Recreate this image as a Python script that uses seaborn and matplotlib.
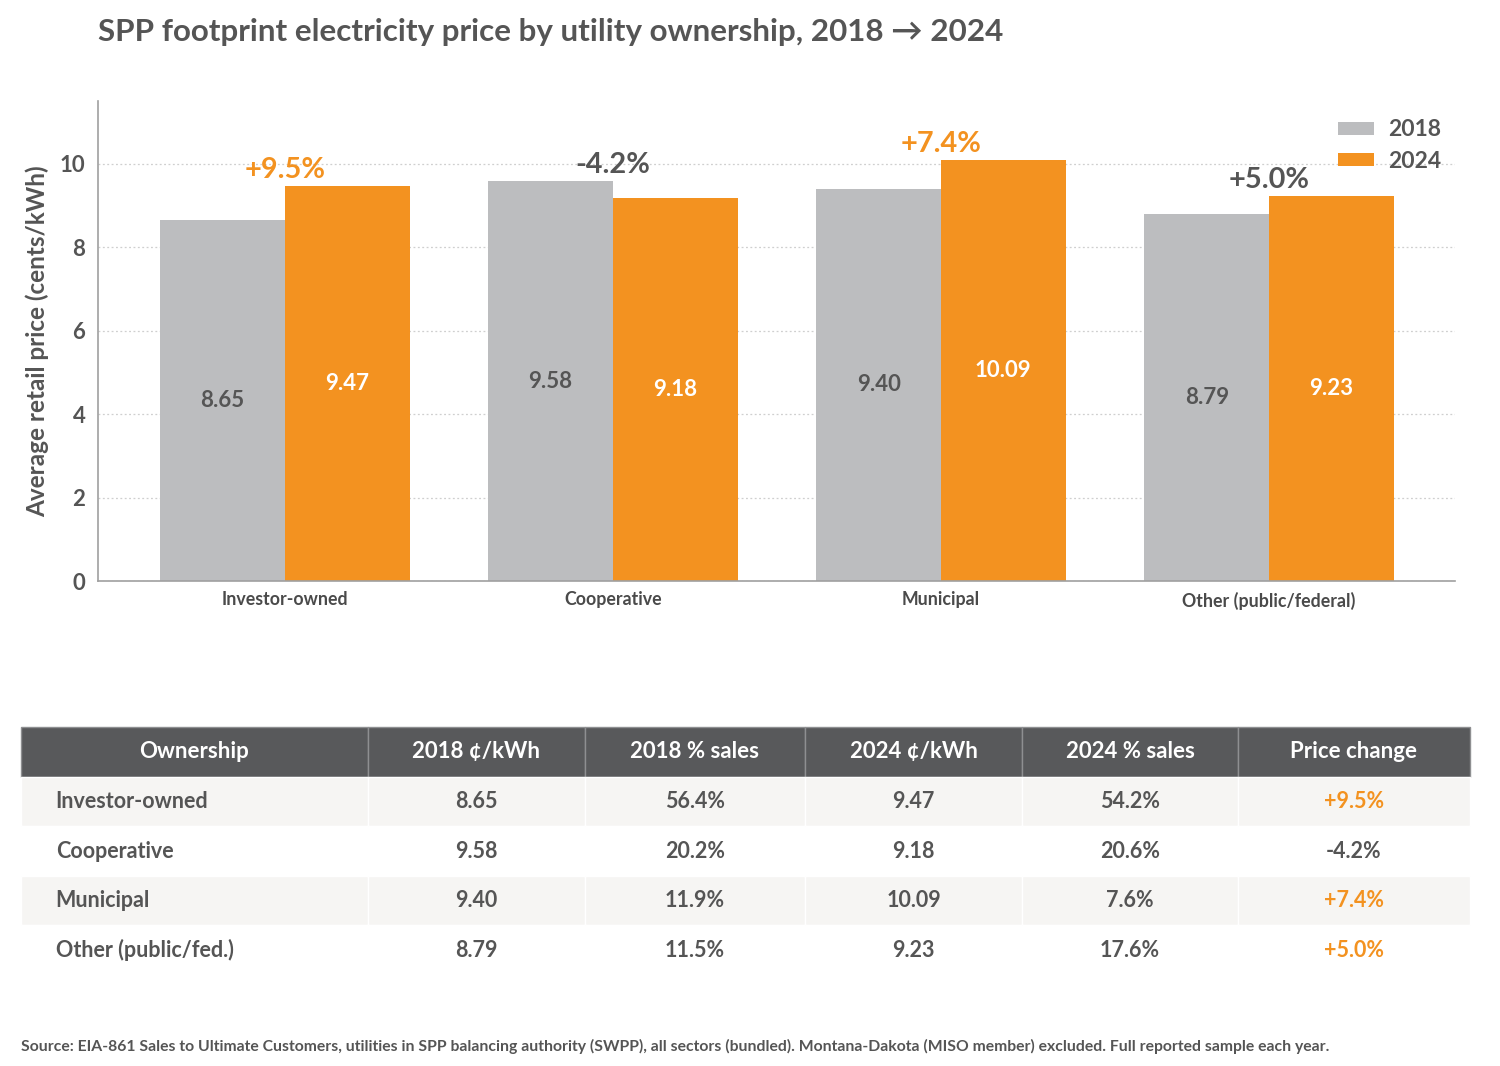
import matplotlib
matplotlib.use("Agg")
import matplotlib.pyplot as plt
import seaborn as sns
import pandas as pd

# ---- data ----
ownership = ["Investor-owned", "Cooperative", "Municipal", "Other (public/federal)"]
table_names = ["Investor-owned", "Cooperative", "Municipal", "Other (public/fed.)"]
years = ["2018", "2024"]
price_2018 = [8.65, 9.58, 9.40, 8.79]
price_2024 = [9.47, 9.18, 10.09, 9.23]
sales_2018 = ["56.4%", "20.2%", "11.9%", "11.5%"]
sales_2024 = ["54.2%", "20.6%", "7.6%", "17.6%"]
price_change = [9.5, -4.2, 7.4, 5.0]
col_labels = ["Ownership", "2018 ¢/kWh", "2018 % sales", "2024 ¢/kWh", "2024 % sales", "Price change"]
yticks = [0, 2, 4, 6, 8, 10]

GRAY = "#bcbdbf"
ORANGE = "#f39220"
DARK = "#58595b"
TXT = "#555555"

sns.set_theme(style="white")
plt.rcParams["font.family"] = ["Lato", "DejaVu Sans"]

fig = plt.figure(figsize=(15, 10.66), dpi=100)
fig.patch.set_facecolor("white")

# ---- bar chart ----
ax = fig.add_axes([98 / 1500, 1 - 581 / 1066, (1455 - 98) / 1500, (581 - 101) / 1066])
df = pd.DataFrame({
    "Ownership": ownership * 2,
    "Year": [years[0]] * 4 + [years[1]] * 4,
    "Price": price_2018 + price_2024,
})
sns.barplot(data=df, x="Ownership", y="Price", hue="Year", palette=[GRAY, ORANGE],
            width=0.76, saturation=1, ax=ax, errorbar=None, linewidth=0)

ax.set_ylim(0, 11.5)
ax.set_xlim(-0.57, 3.567)
ax.set_yticks(yticks)
ax.set_yticklabels([str(t) for t in yticks], fontsize=16, color=TXT, fontweight="bold")
ax.tick_params(axis="x", labelsize=12.8, labelcolor="#4a4a4a", length=4, color="#999999", width=1)
ax.tick_params(axis="y", length=5, color="#999999", width=1, pad=4)
for lab in ax.get_xticklabels():
    lab.set_fontweight("bold")
ax.set_xlabel("")
ax.set_ylabel("Average retail price (cents/kWh)", fontsize=17.5, color=TXT,
              fontweight="bold", labelpad=8)
ax.yaxis.grid(True, linestyle=(0, (1.5, 2)), color="#cfcfcf", linewidth=0.9)
ax.set_axisbelow(True)
for s in ["top", "right"]:
    ax.spines[s].set_visible(False)
for s in ["left", "bottom"]:
    ax.spines[s].set_color("#a0a0a0")
    ax.spines[s].set_linewidth(1.2)

# value labels
conts = ax.containers
ax.bar_label(conts[0], labels=[f"{v:.2f}" for v in price_2018], label_type="center",
             fontsize=16, color=TXT, fontweight="bold")
ax.bar_label(conts[1], labels=[f"{v:.2f}" for v in price_2024], label_type="center",
             fontsize=16, color="white", fontweight="bold")

# change labels
for i, (a, b, c) in enumerate(zip(price_2018, price_2024, price_change)):
    col = ORANGE if c > 5.0 else TXT
    ax.annotate(f"{c:+.1f}%", xy=(i, max(a, b)), xytext=(0, 2), textcoords="offset points",
                ha="center", va="bottom", fontsize=20.8, color=col, fontweight="bold")

leg = ax.legend(loc="upper right", bbox_to_anchor=(1.005, 1.005), frameon=False, fontsize=16.5,
                handlelength=1.6, handleheight=0.5, handletextpad=0.6, labelspacing=0.45)
for t in leg.get_texts():
    t.set_color(TXT)
    t.set_fontweight("bold")

# title
fig.text(98 / 1500, 1 - 32 / 1066, "SPP footprint electricity price by utility ownership, 2018 → 2024",
         fontsize=22.6, fontweight="bold", color=TXT, va="center", ha="left",
         family=["Lato", "DejaVu Sans"])

# ---- table ----
tax = fig.add_axes([21 / 1500, 1 - 975 / 1066, (1470 - 21) / 1500, (975 - 727) / 1066])
tax.axis("off")
cell_text = []
for n, p1, s1, p2, s2, c in zip(table_names, price_2018, sales_2018, price_2024, sales_2024, price_change):
    cell_text.append([n, f"{p1:.2f}", s1, f"{p2:.2f}", s2, f"{c:+.1f}%"])
widths = [347, 217, 220, 217, 216, 232]
tot = sum(widths)
tbl = tax.table(cellText=cell_text, colLabels=col_labels, colWidths=[w / tot for w in widths],
                bbox=[0, 0, 1, 1], cellLoc="center")
tbl.auto_set_font_size(False)
for (r, c), cell in tbl.get_celld().items():
    cell.set_linewidth(1)
    if r == 0:
        cell.set_facecolor(DARK)
        cell.set_edgecolor("#8e8f91")
        cell.get_text().set_color("white")
        cell.get_text().set_fontweight("bold")
        cell.get_text().set_fontsize(16)
    else:
        cell.set_facecolor("#f6f5f3" if r % 2 == 1 else "white")
        cell.set_edgecolor("white")
        t = cell.get_text()
        t.set_fontsize(15.5)
        t.set_fontweight("bold")
        t.set_color(TXT)
        if c == 0:
            cell._loc = "left"
            t.set_ha("left")
        if c == 5:
            t.set_color(ORANGE if price_change[r - 1] > 0 else TXT)

# source
fig.text(21 / 1500, 1 - 1046 / 1066,
         "Source: EIA-861 Sales to Ultimate Customers, utilities in SPP balancing authority (SWPP), all sectors (bundled). "
         "Montana-Dakota (MISO member) excluded. Full reported sample each year.",
         fontsize=11.3, color=TXT, fontweight="bold", va="center", ha="left")

fig.savefig("out.png", dpi=100, facecolor="white")
